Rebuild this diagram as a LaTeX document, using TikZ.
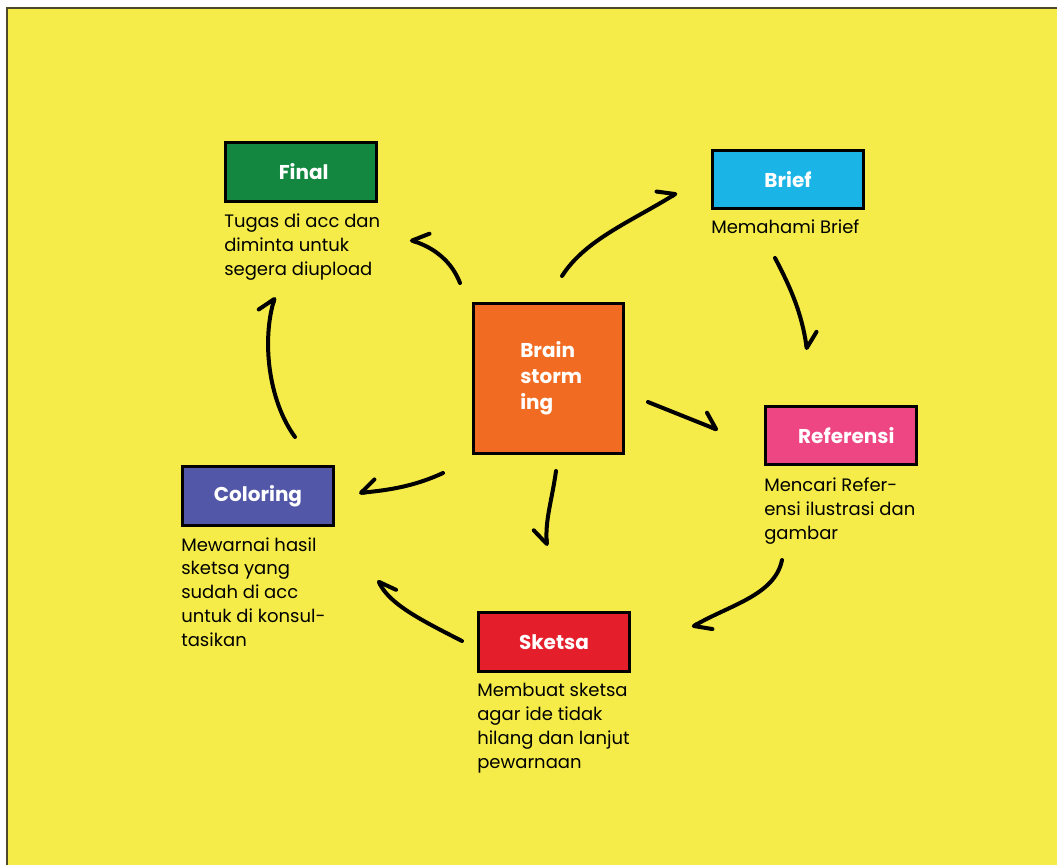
\documentclass[tikz,border=0pt]{standalone}
\usepackage{fontspec}
\setmainfont{Poppins}
\usetikzlibrary{arrows.meta}
\definecolor{bgyellow}{RGB}{245,236,74}
\definecolor{edgegray}{RGB}{80,72,42}
\definecolor{finalgreen}{RGB}{19,135,63}
\definecolor{briefblue}{RGB}{27,180,230}
\definecolor{brainorange}{RGB}{242,107,34}
\definecolor{refpink}{RGB}{238,69,131}
\definecolor{colorindigo}{RGB}{82,87,168}
\definecolor{sketchred}{RGB}{228,31,43}
\begin{document}
\begin{tikzpicture}[x=0.75pt,y=-0.75pt,
	box/.style={draw=black,line width=2.4pt,minimum width=113pt,minimum height=44pt,inner sep=0pt,text=white,font=\fontsize{15}{19.5}\selectfont\bfseries},
	desc/.style={anchor=base west,align=left,inner sep=0pt,font=\fontsize{13.5}{17.8}\selectfont},
	flow/.style={line width=3pt,line cap=round,-{Straight Barb[harpoon,length=11pt,width=18pt,round]}},
	flowr/.style={line width=3pt,line cap=round,-{Straight Barb[harpoon,swap,length=11pt,width=18pt,round]}}]
	
	% page
	\useasboundingbox (0,0) rectangle (1064,865);
	\fill [white] (0,0) rectangle (1064,865);
	\fill [bgyellow] (8,9) rectangle (1057,865);
	\draw [edgegray, line width=1.5pt] (7,865) -- (7,8) -- (1057,8);
	
	% steps
	\node [box, fill=brainorange, minimum width=112.5pt, minimum height=112.5pt, align=left] (brain) at (548.5,378.5) {\hspace*{4pt}Brain\\\hspace*{4pt}storm\\\hspace*{4pt}ing};
	\node [box, fill=briefblue] (brief) at (788,179.5) {Brief};
	\node [box, fill=refpink] (ref) at (841,435.5) {\hspace*{8pt}Referensi};
	\node [box, fill=sketchred] (sketsa) at (554,642) {Sketsa};
	\node [box, fill=colorindigo] (coloring) at (258,496) {Coloring};
	\node [box, fill=finalgreen] (final) at (301,172) {\hspace*{4pt}Final};
	
	% descriptions (placed at the baseline of their last line)
	\node [desc] (brief-txt) at (711,233) {Memahami Brief};
	\node [desc] (ref-txt) at (764,539) {Mencari Refer-\\ensi ilustrasi dan\\gambar};
	\node [desc] (sketsa-txt) at (477,768) {Membuat sketsa\\agar ide tidak\\hilang dan lanjut\\pewarnaan};
	\node [desc] (coloring-txt) at (181,646) {Mewarnai hasil\\sketsa yang\\sudah di acc\\untuk di konsul-\\tasikan};
	\node [desc] (final-txt) at (224,275) {Tugas di acc dan\\diminta untuk\\segera diupload};
	
	% arrow ends
	\coordinate (a1) at (562,276);  \coordinate (b1) at (677,193);
	\coordinate (a2) at (775,258);  \coordinate (b2) at (807,350);
	\coordinate (a3) at (648,402);  \coordinate (b3) at (718,430);
	\coordinate (a4) at (556,471);  \coordinate (b4) at (547,546);
	\coordinate (a5) at (443,473);  \coordinate (b5) at (359,493);
	\coordinate (a6) at (782,560);  \coordinate (b6) at (692,627);
	\coordinate (a7) at (462,641);  \coordinate (b7) at (378,580);
	\coordinate (a8) at (295,437);  \coordinate (b8) at (275,297);
	\coordinate (a9) at (460,283);  \coordinate (b9) at (410,240);
	
	% arrows
	\draw [flow] (a1) .. controls (585,240) and (630,222) .. (b1);
	\draw [flow] (a2) .. controls (792,290) and (802,315) .. (b2);
	\draw [flow] (a3) -- (b3);
	\draw [flowr] (a4) .. controls (552,500) and (545,520) .. (b4);
	\draw [flowr] (a5) .. controls (415,486) and (390,490) .. (b5);
	\draw [flow] (a6) .. controls (775,595) and (730,605) .. (b6);
	\draw [flowr] (a7) .. controls (425,622) and (390,605) .. (b7);
	\draw [flow] (a8) .. controls (268,400) and (262,340) .. (b8);
	\draw [flowr] (a9) .. controls (452,262) and (435,248) .. (b9);
	
\end{tikzpicture}
\end{document}
